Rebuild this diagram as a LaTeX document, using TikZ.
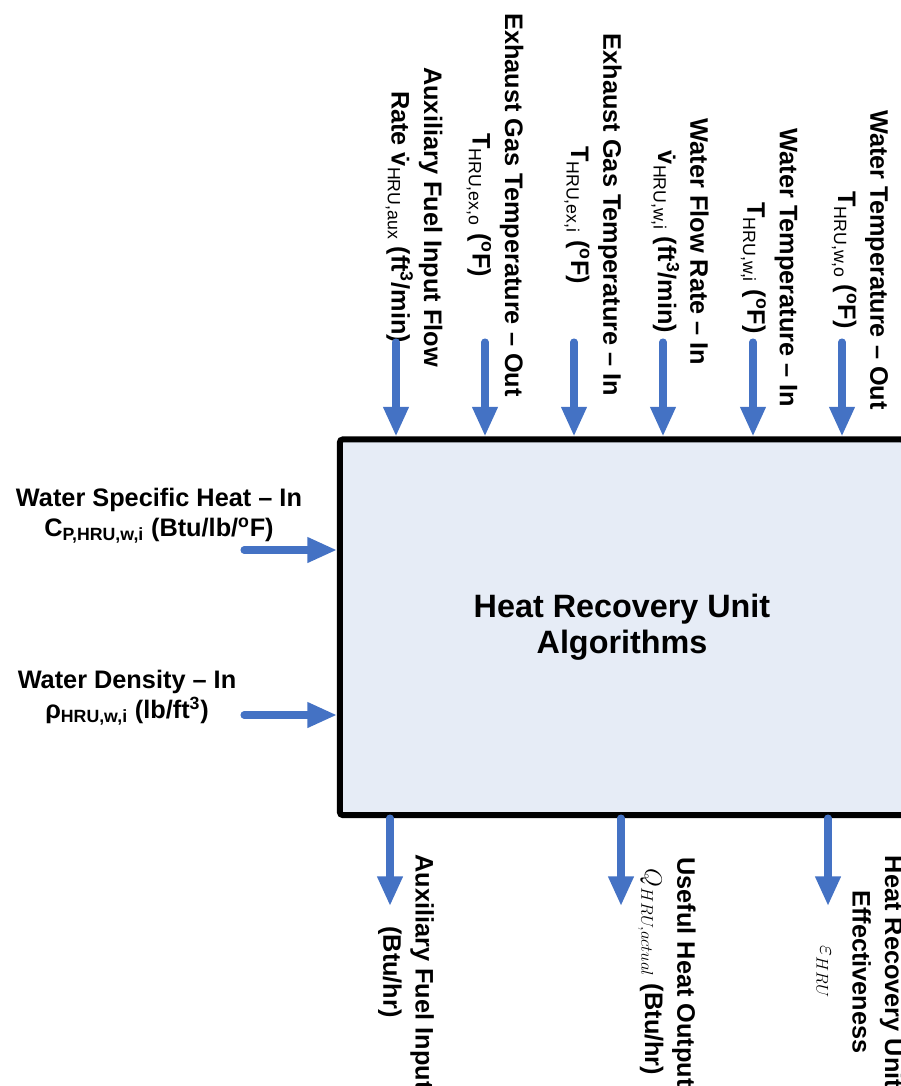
\documentclass[tikz,border=0pt]{standalone}
\usepackage{fontspec}
\setmainfont{Liberation Sans}
\usetikzlibrary{arrows.meta}
\usetikzlibrary{positioning}

\definecolor{flowblue}{RGB}{68,114,196}
\definecolor{hrufill}{RGB}{230,236,246}

\tikzset{
  flow/.style={draw=flowblue,line width=5pt,line cap=round,-{Triangle[length=21pt,width=17pt]}},
  toplabel/.style={rotate=-90,align=center,inner sep=0pt,font=\fontsize{18}{23}\selectfont\bfseries},
  sidelabel/.style={align=center,inner sep=0pt,font=\fontsize{18}{21}\selectfont\bfseries},
  hrubox/.style={draw=black,line width=4.25pt,fill=hrufill,rounded corners=2pt,align=center,
    minimum width=14.1cm,minimum height=9.3875cm,font=\fontsize{23}{25}\selectfont\bfseries},
}
\newcommand{\sub}[1]{\textsubscript{\mdseries #1}}

\begin{document}
\begin{tikzpicture}[x=0.025cm,y=-0.025cm]
\useasboundingbox (0,0) rectangle (901,1086);

% main block
\node[hrubox] (hru) at (622,627.25) {Heat Recovery Unit\\Algorithms};

% inputs from the top
\node[toplabel] (auxin) at (414,217) {Auxiliary Fuel Input Flow\\Rate \.{v}\sub{HRU,aux} (ft\textsuperscript{3}/min)};
\node[toplabel] (exout) at (495,205) {Exhaust Gas Temperature – Out\\T\sub{HRU,ex,o} (\textsuperscript{o}F)};
\node[toplabel] (exin) at (593,215) {Exhaust Gas Temperature – In\\T\sub{HRU,ex,i} (\textsuperscript{o}F)};
\node[toplabel] (wflow) at (680,242) {Water Flow Rate – In\\\.{v}\sub{HRU,w,i} (ft\textsuperscript{3}/min)};
\node[toplabel] (wtin) at (769,268) {Water Temperature – In\\T\sub{HRU,w,i} (\textsuperscript{o}F)};
\node[toplabel] (wtout) at (860,260) {Water Temperature – Out\\T\sub{HRU,w,o} (\textsuperscript{o}F)};

\coordinate (t1) at (396,342);
\coordinate (t2) at (485,342);
\coordinate (t3) at (574,342);
\coordinate (t4) at (663,342);
\coordinate (t5) at (753,342);
\coordinate (t6) at (842,342);
\draw[flow] (t1) -- (t1 |- hru.north);
\draw[flow] (t2) -- (t2 |- hru.north);
\draw[flow] (t3) -- (t3 |- hru.north);
\draw[flow] (t4) -- (t4 |- hru.north);
\draw[flow] (t5) -- (t5 |- hru.north);
\draw[flow] (t6) -- (t6 |- hru.north);

% inputs from the left
\node[sidelabel] (cp) at (159,516) {Water Specific Heat – In\\C\textsubscript{P,HRU,w,i} (Btu/lb/\textsuperscript{o}F)};
\node[sidelabel] (rho) at (127,698) {Water Density – In\\ρ\textsubscript{HRU,w,i} (lb/ft\textsuperscript{3})};
\coordinate (l1) at (244,550);
\coordinate (l2) at (244,715);
\draw[flow] (l1) -- (l1 -| hru.west);
\draw[flow] (l2) -- (l2 -| hru.west);

% outputs at the bottom
\coordinate (b1) at (390,906);
\coordinate (b2) at (621,906);
\coordinate (b3) at (828,906);
\draw[flow] (b1 |- hru.south) -- (b1);
\draw[flow] (b2 |- hru.south) -- (b2);
\draw[flow] (b3 |- hru.south) -- (b3);
\node[toplabel] (auxout) at (406,972) {Auxiliary Fuel Input\\(Btu/hr)};
\node[toplabel] (qout) at (667,972) {Useful Heat Output\\$Q_{HRU,actual}$ (Btu/hr)};
\node[toplabel] (effout) at (860,972) {Heat Recovery Unit\\Effectiveness\\$\varepsilon_{HRU}$};

\end{tikzpicture}
\end{document}
